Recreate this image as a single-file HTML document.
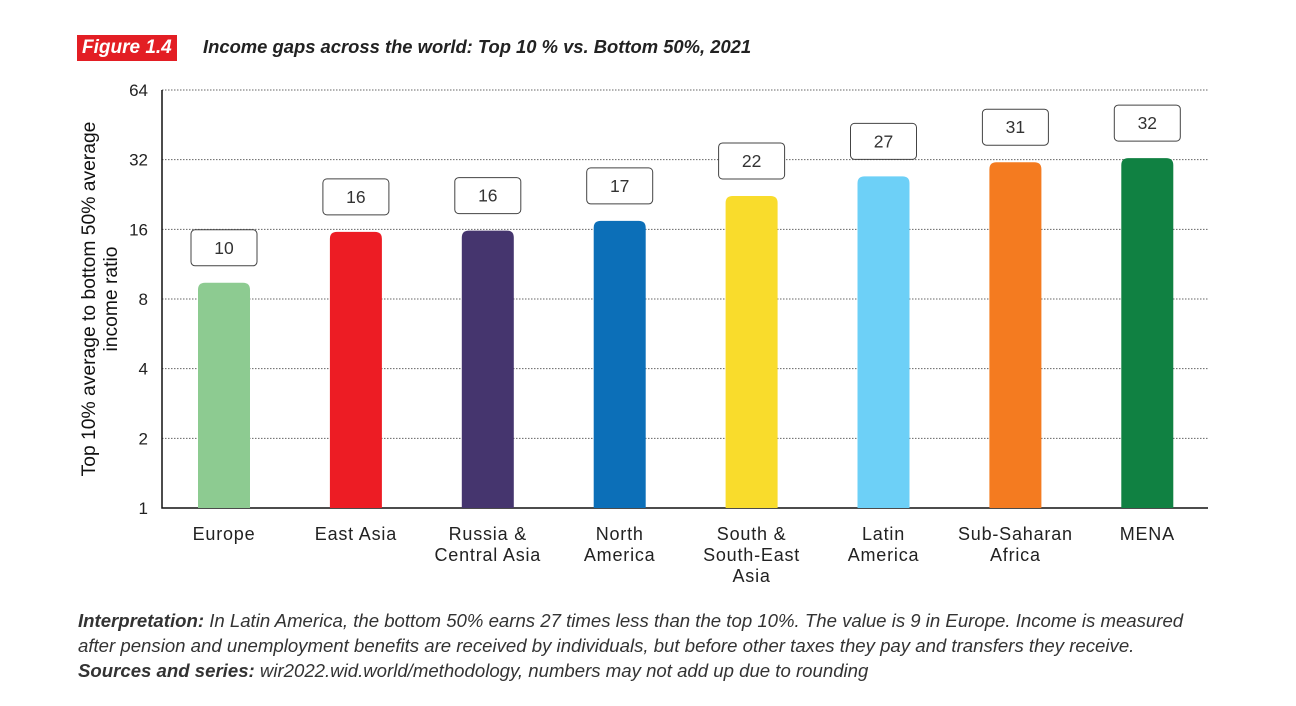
<!DOCTYPE html>
<html><head><meta charset="utf-8"><style>
body{margin:0;background:#fff;width:1296px;height:706px;overflow:hidden;font-family:"Liberation Sans",sans-serif}
#fig{position:absolute;left:77px;top:35px;background:#e31e24;color:#fff;font-style:italic;font-weight:bold;font-size:19px;padding:1px 5px;height:24px;line-height:24px}
#title{position:absolute;left:203px;top:36px;font-style:italic;font-weight:bold;font-size:18.4px;color:#222}
#note{position:absolute;left:78px;top:608px;width:1125px;font-style:italic;font-size:18.6px;line-height:25px;color:#333}
</style></head><body>
<div id="fig">Figure 1.4</div>
<div id="title">Income gaps across the world: Top 10 % vs. Bottom 50%, 2021</div>
<svg id="chart" width="1296" height="706" style="position:absolute;left:0;top:0"></svg>
<div id="note"><b>Interpretation:</b> In Latin America, the bottom 50% earns 27 times less than the top 10%. The value is 9 in Europe. Income is measured after pension and unemployment benefits are received by individuals, but before other taxes they pay and transfers they receive. <b>Sources and series:</b> wir2022.wid.world/methodology, numbers may not add up due to rounding</div>
<script>
const categories=[["Europe"],["East Asia"],["Russia &","Central Asia"],["North","America"],["South &","South-East","Asia"],["Latin","America"],["Sub-Saharan","Africa"],["MENA"]];
const values=[9.4,15.6,15.8,17.4,22.3,27.1,31.2,32.5];
const valueLabels=["10","16","16","17","22","27","31","32"];
const colors=["#8dcb91","#ed1c24","#45356e","#0c6fb8","#f9dc2c","#6dd0f7","#f47b20","#108142"];
const ticks=[1,2,4,8,16,32,64];
const svg=document.getElementById('chart');const NS="http://www.w3.org/2000/svg";
const x0=162,x1=1208,yTop=90,yBot=508;
const y=v=>yBot-(Math.log2(v)/6)*(yBot-yTop);
const xc=i=>224+i*131.9;
function mk(t,a,p){const e=document.createElementNS(NS,t);for(const k in a)e.setAttribute(k,a[k]);(p||svg).appendChild(e);return e;}
ticks.forEach(t=>{
 if(t>1){const g=mk('line',{x1:x0,x2:x1,y1:y(t),y2:y(t),stroke:'#666','stroke-width':1,'stroke-dasharray':'1.5,1.5'});
 
 }
 const l=mk('text',{x:148,y:y(t)+6,'text-anchor':'end','font-size':17,fill:'#222','font-family':'Liberation Sans'});l.textContent=t;
 
 
});
const ax=mk('path',{d:`M${x0},${yTop}V${yBot}H${x1}`,stroke:'#111','stroke-width':1.5,fill:'none'});


const yt=mk('text',{transform:'translate(95,299) rotate(-90)','text-anchor':'middle','font-size':19.3,fill:'#111'});


[['Top 10% average to bottom 50% average',0],['income ratio',22]].forEach(([s,dy])=>{const ts=mk('tspan',{x:0,y:dy},yt);ts.textContent=s;});
values.forEach((v,i)=>{
 const cx=xc(i),w=52,top=y(v),r=7;
 const b=mk('path',{d:`M${cx-w/2},${yBot}V${top+r}Q${cx-w/2},${top} ${cx-w/2+r},${top}H${cx+w/2-r}Q${cx+w/2},${top} ${cx+w/2},${top+r}V${yBot}Z`,fill:colors[i]});
 
 
 const bx=mk('rect',{x:cx-33,y:top-53,width:66,height:36,rx:4,fill:'#fff',stroke:'#444','stroke-width':1});
 
 
 const t=mk('text',{x:cx,y:top-29,'text-anchor':'middle','font-size':17.5,fill:'#333'});t.textContent=valueLabels[i];
 
 
 const c=mk('text',{'text-anchor':'middle','font-size':18,'letter-spacing':0.8,fill:'#222'});
 
 
 categories[i].forEach((s,j)=>{const ts=mk('tspan',{x:cx,y:540+j*21},c);ts.textContent=s;});
});
</script>
</body></html>
